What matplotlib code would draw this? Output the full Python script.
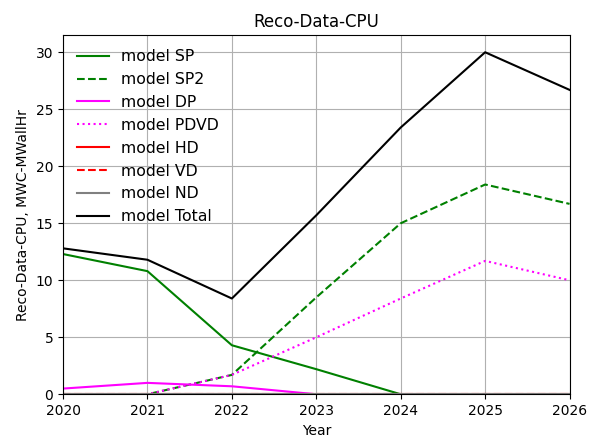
import matplotlib
matplotlib.use("Agg")
import matplotlib.pyplot as plt

years = [2020, 2021, 2022, 2023, 2024, 2025, 2026]

sp = [12.3, 10.8, 4.3, 2.2, 0.0, 0.0, 0.0]
sp2 = [0.0, 0.0, 1.7, 8.5, 15.0, 18.4, 16.7]
dp = [0.5, 1.0, 0.7, 0.0, 0.0, 0.0, 0.0]
pdvd = [0.0, 0.0, 1.7, 5.0, 8.4, 11.7, 10.0]
hd = [0.0, 0.0, 0.0, 0.0, 0.0, 0.0, 0.0]
vd = [0.0, 0.0, 0.0, 0.0, 0.0, 0.0, 0.0]
nd = [0.0, 0.0, 0.0, 0.0, 0.0, 0.0, 0.0]
total = [12.8, 11.8, 8.4, 15.7, 23.4, 30.0, 26.7]

fig, ax = plt.subplots(figsize=(5.89, 4.45), dpi=100)

ax.plot(years, sp, color="green", linestyle="-", label="model SP")
ax.plot(years, sp2, color="green", linestyle="--", label="model SP2")
ax.plot(years, dp, color="magenta", linestyle="-", label="model DP")
ax.plot(years, pdvd, color="magenta", linestyle=":", label="model PDVD")
ax.plot(years, hd, color="red", linestyle="-", label="model HD")
ax.plot(years, vd, color="red", linestyle="--", label="model VD")
ax.plot(years, nd, color="gray", linestyle="-", label="model ND")
ax.plot(years, total, color="black", linestyle="-", label="model Total")

ax.set_title("Reco-Data-CPU")
ax.set_xlabel("Year")
ax.set_ylabel("Reco-Data-CPU, MWC-MWallHr")
ax.set_xlim(2020, 2026)
ax.set_ylim(0, 31.5)
ax.grid(True)
ax.legend(loc="upper left", frameon=False, fontsize=11.3)

fig.subplots_adjust(left=0.107, right=0.967, top=0.921, bottom=0.114)
fig.savefig("out.png")
